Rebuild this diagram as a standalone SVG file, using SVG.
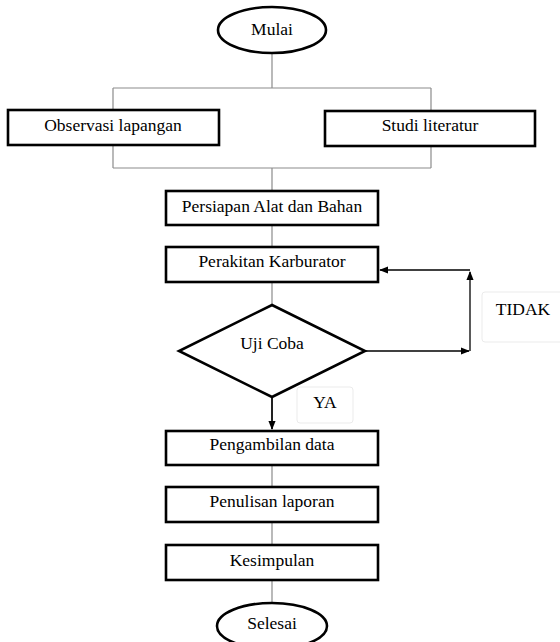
<svg xmlns="http://www.w3.org/2000/svg" width="560" height="642" viewBox="0 0 560 642">
<style>
.box{fill:#fff;stroke:#000;stroke-width:2.6}
.t{font-family:"Liberation Serif","Times New Roman",serif;font-size:17.5px;fill:#000;text-anchor:middle}
.g{fill:none;stroke:#8c8c8c;stroke-width:1.2}
.k{fill:none;stroke:#000;stroke-width:1.3}
.lbl{fill:#fff;stroke:#ebebeb;stroke-width:1}
</style>
<defs>
<marker id="ah" viewBox="0 0 10 10" refX="9" refY="5" markerWidth="9" markerHeight="9" markerUnits="userSpaceOnUse" orient="auto">
<path d="M0,1 L10,5 L0,9 Z" fill="#000"/>
</marker>
</defs>
<rect width="560" height="642" fill="#fff"/>
<g id="connectors">
<path class="g" d="M272,53 V88 M113,88 H431 M113,88 V110 M431,88 V110 M113,145 V168 M431,145 V168 M113,168 H431 M272,168 V191"/>
<path class="g" d="M272,225 V247 M272,282 V305"/>
<path d="M272,397 V429" fill="none" stroke="#222" stroke-width="2" marker-end="url(#ah)"/>
<path class="k" d="M365,351 H469" marker-end="url(#ah)"/>
<path class="k" d="M470,351 V272" marker-end="url(#ah)"/>
<path class="k" d="M470,270 H380" marker-end="url(#ah)"/>
<path class="g" d="M272,465 V487 M272,522 V545 M272,580 V603"/>
</g>
<g id="mulai"><ellipse class="box" cx="272" cy="30" rx="54" ry="23"/><text class="t" x="272" y="35">Mulai</text></g>
<g id="observasi"><rect class="box" x="8" y="110" width="211" height="35"/><text class="t" x="113" y="131">Observasi lapangan</text></g>
<g id="studi"><rect class="box" x="325" y="111" width="210" height="35"/><text class="t" x="430" y="131">Studi literatur</text></g>
<g id="persiapan"><rect class="box" x="166" y="191" width="212" height="34"/><text class="t" x="272" y="212">Persiapan Alat dan Bahan</text></g>
<g id="perakitan"><rect class="box" x="166" y="247" width="212" height="35"/><text class="t" x="272" y="267">Perakitan Karburator</text></g>
<g id="ujicoba"><polygon class="box" points="272,305 365,351 272,397 179,351"/><text class="t" x="272" y="349">Uji Coba</text></g>
<g id="tidak"><rect class="lbl" x="482" y="292" width="90" height="50" rx="3"/><text class="t" x="523" y="315">TIDAK</text></g>
<g id="ya"><rect class="lbl" x="297" y="387" width="56" height="36" rx="3"/><text class="t" x="325" y="408">YA</text></g>
<g id="pengambilan"><rect class="box" x="166" y="431" width="212" height="34"/><text class="t" x="272" y="450">Pengambilan data</text></g>
<g id="penulisan"><rect class="box" x="166" y="487" width="212" height="35"/><text class="t" x="272" y="507">Penulisan laporan</text></g>
<g id="kesimpulan"><rect class="box" x="166" y="545" width="212" height="35"/><text class="t" x="272" y="566">Kesimpulan</text></g>
<g id="selesai"><ellipse class="box" cx="272" cy="626" rx="55" ry="23"/><text class="t" x="272" y="629">Selesai</text></g>
</svg>
